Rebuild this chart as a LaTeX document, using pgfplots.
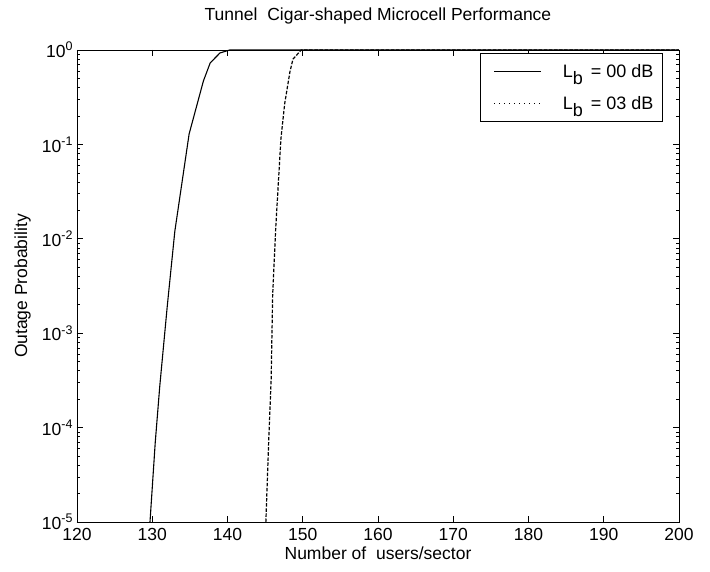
\documentclass[border=0pt]{standalone}
\usepackage{pgfplots}
\pgfplotsset{compat=1.18}
\usepackage{fontspec}
\setmainfont{Liberation Sans}
\newcommand{\ex}[1]{10\raisebox{0.75ex}{\fontsize{12.5}{14}\selectfont #1}}
\begin{document}
\begin{tikzpicture}[x=1pt,y=1pt]
\useasboundingbox (-77,-50) rectangle (633,522);
\begin{axis}[
  at={(0,0)}, anchor=south west,
  scale only axis, width=602pt, height=472pt,
  font=\fontsize{17.5}{20}\selectfont,
  xmin=120, xmax=200, ymode=log, ymin=1e-5, ymax=1,
  xtick={120,130,...,200},
  ytick={1e-5,1e-4,1e-3,1e-2,1e-1,1},
  yticklabels={\ex{-5},\ex{-4},\ex{-3},\ex{-2},\ex{-1},\ex{0}},
  /pgf/number format/assume math mode=true,
  tick align=inside, tick pos=both,
  major tick length=6pt, minor tick length=3pt,
  axis line style={line width=0.9pt},
  every tick/.style={black, line width=0.6pt},
  title={Tunnel\ \ Cigar-shaped Microcell Performance},
  title style={at={(axis description cs:0.5,1.05)}, anchor=base, font=\fontsize{17.5}{20}\selectfont},
  xlabel={Number of\ \ users/sector},
  xlabel style={at={(axis description cs:0.5,-0.08)}, anchor=base, font=\fontsize{17.5}{20}\selectfont},
  ylabel={Outage Probability},
  ylabel style={at={(axis description cs:-0.083,0.5)}, anchor=base, font=\fontsize{17.5}{20}\selectfont},
  ticklabel style={font=\fontsize{17.5}{20}\selectfont},
  xticklabel style={yshift=-2.5pt},
  yticklabel style={xshift=-1pt},
  legend style={at={(axis description cs:0.973,0.993)}, anchor=north east,
    draw=black, line width=0.6pt, inner xsep=7pt, inner ysep=9pt,
    row sep=13pt, font=\fontsize{18}{20}\selectfont},
  legend cell align=right,
  legend image code/.code={\path (0pt,0pt); \draw[#1] (6pt,0pt) -- (53pt,0pt);},
]
\addplot[black, line width=1.1pt] coordinates {
(129.7,1e-5) (130.4,7e-5) (131.0,2.75e-4) (132.0,1.95e-3) (133.0,1.2e-2)
(134.9,0.129) (136.8,0.47) (137.7,0.73) (139.0,0.93) (140.3,1) (200,1)
};
\addlegendentry{\hspace{19pt}L\raisebox{-0.75ex}{b}\hspace{3pt} = 00 dB}
\addplot[black, line width=1.2pt, dash pattern=on 3.5pt off 1.6pt, forget plot] coordinates {
(145.1,1e-5) (145.5,8.1e-5) (145.8,3.2e-4) (146.0,2.5e-3) (146.4,1.26e-2)
(147.1,0.115) (147.6,0.27) (148.3,0.59) (148.7,0.80) (149.8,1) (200,1)
};
\addlegendimage{black, line width=0.7pt, dash pattern=on 1pt off 4pt}
\addlegendentry{\hspace{19pt}L\raisebox{-0.75ex}{b}\hspace{3pt} = 03 dB}
\end{axis}
\end{tikzpicture}
\end{document}
